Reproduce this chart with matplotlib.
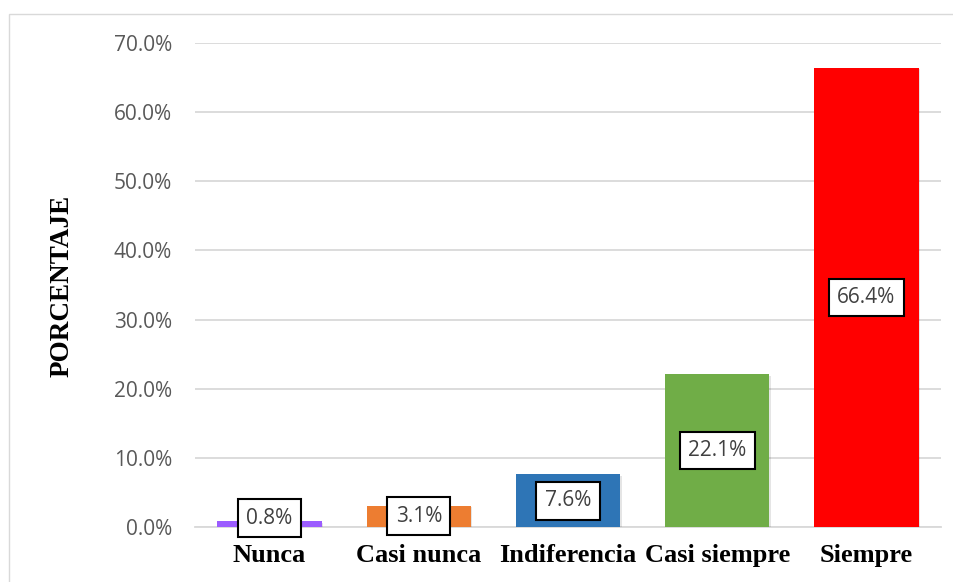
import matplotlib
matplotlib.use("Agg")
import matplotlib.pyplot as plt
from matplotlib.patches import Rectangle
from matplotlib.ticker import FuncFormatter, MultipleLocator
import matplotlib.patheffects as pe

categories = ["Nunca", "Casi nunca", "Indiferencia", "Casi siempre", "Siempre"]
values = [0.8, 3.1, 7.6, 22.1, 66.4]
colors = ["#9b5cff", "#ed7d31", "#2e75b6", "#70ad47", "#ff0000"]

fig = plt.figure(figsize=(9.54, 5.82), dpi=100)
ax = fig.add_axes([0.2044, 0.0945, 0.7820, 0.8316])

# outer chart frame
fig.patches.append(Rectangle((0.0094, -0.05), 1.2, 1.026, transform=fig.transFigure,
                             fill=False, edgecolor="#d9d9d9", linewidth=1.0))

x = range(len(categories))
bars = ax.bar(x, values, width=0.70, color=colors, zorder=3)
for b in bars:
    b.set_path_effects([pe.SimplePatchShadow(offset=(1.0, -1.0), shadow_rgbFace="#000000", alpha=0.10),
                        pe.Normal()])

for xi, v in zip(x, values):
    ax.text(xi, max(v / 2, 1.3), f"{v:.1f}%", ha="center", va="center", fontsize=15,
            family="Open Sans", color="#404040", zorder=5,
            bbox=dict(boxstyle="square,pad=0.4", facecolor="white", edgecolor="black", linewidth=1.5))

ax.set_xlim(-0.5, 4.5)
ax.set_ylim(0, 70)
ax.yaxis.set_major_locator(MultipleLocator(10))
ax.yaxis.set_major_formatter(FuncFormatter(lambda v, p: f"{v:.1f}%"))
ax.grid(axis="y", color="#d9d9d9", linewidth=1.3, zorder=0)
ax.set_axisbelow(True)
for s in ["top", "right", "left"]:
    ax.spines[s].set_visible(False)
ax.spines["bottom"].set_color("#d9d9d9")
ax.spines["bottom"].set_linewidth(1.3)
ax.tick_params(axis="both", length=0)
ax.tick_params(axis="y", pad=16.5)
for t in ax.get_yticklabels():
    t.set_family("Open Sans")
    t.set_fontsize(15)
    t.set_color("#595959")
ax.set_xticks(list(x))
ax.set_xticklabels(categories, family="Liberation Serif", fontweight="bold", fontsize=19, color="black")
ax.tick_params(axis="x", pad=12)

fig.text(0.065, 0.508, "PORCENTAJE", rotation=90, ha="center", va="center",
         family="Liberation Serif", fontweight="bold", fontsize=19.5)

fig.savefig("out.png", dpi=100)
